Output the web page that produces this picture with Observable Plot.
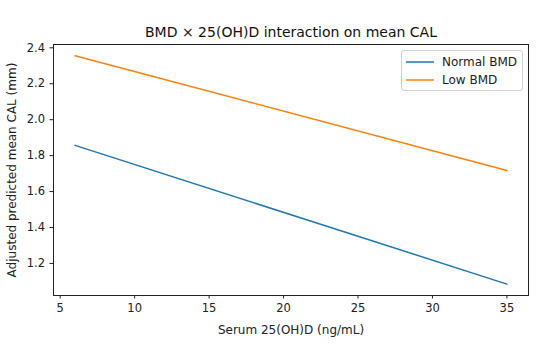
<!DOCTYPE html>
<html>
<head>
<meta charset="utf-8">
<script src="https://cdn.jsdelivr.net/npm/d3@7"></script>
<script src="https://cdn.jsdelivr.net/npm/@observablehq/plot@0.6"></script>
<style>
  html, body { margin: 0; padding: 0; background: #fff; }
  #wrap { position: relative; width: 550px; height: 359px; font-family: "DejaVu Sans", sans-serif; }
  #legend { position: absolute; left: 401px; top: 50px; width: 120px; height: 39px;
            border: 1px solid #d0d0d0; border-radius: 3px; background: rgba(255,255,255,0.85);
            font-size: 12px; color: #222; }
  .row { position: absolute; left: 4px; height: 18px; display: flex; align-items: center; }
  .row svg { margin-right: 8px; }
</style>
</head>
<body>
<div id="wrap"></div>
<script>
const series = ["Normal BMD", "Low BMD"];
const colors = ["#1f77b4", "#ff7f0e"];
const vitD = [6, 35];
const normalBMD = [1.857, 1.085];
const lowBMD = [2.356, 1.717];
const xTicks = [5, 10, 15, 20, 25, 30, 35];
const yTicks = [1.2, 1.4, 1.6, 1.8, 2.0, 2.2, 2.4];

const data = [];
vitD.forEach((x, i) => {
  data.push({x, y: normalBMD[i], group: series[0]});
  data.push({x, y: lowBMD[i], group: series[1]});
});

const chart = Plot.plot({
  width: 550,
  height: 359,
  marginLeft: 53,
  marginRight: 22,
  marginTop: 44,
  marginBottom: 64,
  style: {fontFamily: "DejaVu Sans, sans-serif", fontSize: "11.5px", color: "#222", background: "#fff"},
  x: {domain: [4.55, 36.45]},
  y: {domain: [1.0215, 2.4185]},
  color: {domain: series, range: colors},
  marks: [
    Plot.frame({stroke: "#222", strokeWidth: 1}),
    Plot.axisX({ticks: xTicks, tickSize: 3.5, tickPadding: 5, fontSize: 11.5, label: null}),
    Plot.axisX({ticks: [], tickSize: 0, fontSize: 12,
      label: "Serum 25(OH)D (ng/mL)", labelAnchor: "center", labelArrow: "none", labelOffset: 38}),
    Plot.axisY({ticks: yTicks, tickSize: 3.5, tickPadding: 5, fontSize: 11.5, tickFormat: ".1f", label: null}),
    Plot.axisY({ticks: [], tickSize: 0, fontSize: 12,
      label: "Adjusted predicted mean CAL (mm)", labelAnchor: "center", labelArrow: "none", labelOffset: 46}),
    Plot.line(data, {x: "x", y: "y", z: "group", stroke: "group", strokeWidth: 1.5}),
    Plot.text(["BMD × 25(OH)D interaction on mean CAL"], {frameAnchor: "top", dy: -17, fontSize: 14, fill: "#111"})
  ]
});

const wrap = document.getElementById("wrap");
wrap.appendChild(chart);

const legend = document.createElement("div");
legend.id = "legend";
series.forEach((s, i) => {
  const row = document.createElement("div");
  row.className = "row";
  row.style.top = (2 + i * 18) + "px";
  row.innerHTML = `<svg width="28" height="4"><line x1="0" x2="28" y1="2" y2="2" stroke="${colors[i]}" stroke-width="1.5"/></svg><span>${s}</span>`;
  legend.appendChild(row);
});
wrap.appendChild(legend);
</script>
</body>
</html>
